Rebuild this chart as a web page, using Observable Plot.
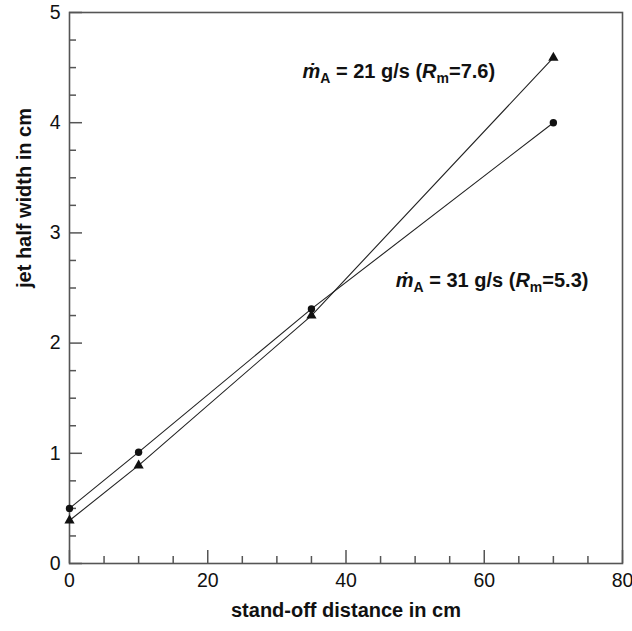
<!DOCTYPE html>
<html><head><meta charset="utf-8">
<script src="https://cdn.jsdelivr.net/npm/d3@7"></script>
<script src="https://cdn.jsdelivr.net/npm/@observablehq/plot@0.6"></script>
<style>
body{margin:0;background:#fff;}
#chart svg{font-family:"Liberation Sans",Arial,Helvetica,sans-serif;}
</style>
</head><body><div id="chart"></div>
<script>
// stand-off distance (cm)
const distance = [0, 10, 35, 70];
// jet half width (cm), mass flow 31 g/s (circles)
const halfWidth31 = [0.50, 1.01, 2.31, 4.00];
// jet half width (cm), mass flow 21 g/s (triangles)
const halfWidth21 = [0.39, 0.89, 2.25, 4.59];

const xMajorTicks = [0, 20, 40, 60, 80];
const xMinorTicks = [5, 10, 15, 25, 30, 35, 45, 50, 55, 65, 70, 75];
const yMajorTicks = [0, 1, 2, 3, 4, 5];
const yMinorTicks = [0.25, 0.5, 0.75, 1.25, 1.5, 1.75, 2.25, 2.5, 2.75, 3.25, 3.5, 3.75, 4.25, 4.5, 4.75];

const annotationFlow = ["21", "31"];
const annotationRm = ["7.6", "5.3"];
const annotationX = [33.7, 47.2];
const annotationY = [4.46, 2.565];

const s31 = distance.map((d, i) => ({x: d, y: halfWidth31[i]}));
const s21 = distance.map((d, i) => ({x: d, y: halfWidth21[i]}));
const notes = annotationFlow.map((f, i) => ({x: annotationX[i], y: annotationY[i], flow: f, rm: annotationRm[i]}));

const axisColor = "#555";

const chart = Plot.plot({
  width: 632,
  height: 631,
  marginLeft: 69,
  marginRight: 10,
  marginTop: 12,
  marginBottom: 68,
  x: {domain: [0, 80]},
  y: {domain: [0, 5]},
  style: {color: "#111", background: "#fff"},
  marks: [
    Plot.frame({stroke: axisColor, strokeWidth: 1.6}),
    Plot.axisX(xMajorTicks, {tickSize: -13, tickPadding: 23, stroke: axisColor, strokeWidth: 1.5, fontSize: 19.5, fill: "#111", tickFormat: "d", label: null}),
    Plot.axisX(xMinorTicks, {tickSize: -7, tickFormat: () => "", stroke: axisColor, strokeWidth: 1.5, label: null}),
    Plot.axisY(yMajorTicks, {tickSize: -13, tickPadding: 22, stroke: axisColor, strokeWidth: 1.5, fontSize: 19.5, fill: "#111", tickFormat: "d", label: null}),
    Plot.axisY(yMinorTicks, {tickSize: -7, tickFormat: () => "", stroke: axisColor, strokeWidth: 1.5, label: null}),
    Plot.line(s31, {x: "x", y: "y", stroke: "#222", strokeWidth: 1.1}),
    Plot.line(s21, {x: "x", y: "y", stroke: "#222", strokeWidth: 1.1}),
    Plot.dot(s31, {x: "x", y: "y", r: 3.7, fill: "#111", stroke: "none"}),
    Plot.dot(s21, {x: "x", y: "y", symbol: "triangle", r: 3.8, fill: "#111", stroke: "none"}),
    Plot.text(notes, {x: "x", y: "y", text: d => `ṁA = ${d.flow} g/s (Rm=${d.rm})`, textAnchor: "start", fontSize: 20, fontWeight: "bold", fill: "#111"}),
    Plot.text(["stand-off distance in cm"], {frameAnchor: "bottom", dy: 53, fontSize: 20, fontWeight: "bold", fill: "#111"}),
    Plot.text(["jet half width in cm"], {frameAnchor: "left", dx: -45, rotate: -90, fontSize: 20, fontWeight: "bold", fill: "#111"})
  ]
});

// rich formatting of annotations (dot-over m, subscripts, italics)
d3.select(chart).selectAll("text").filter(function() { return this.textContent.startsWith("ṁA"); }).each(function() {
  const t = d3.select(this);
  const m = this.textContent.match(/= (\d+) g\/s \(Rm=([\d.]+)\)/);
  t.text(null);
  t.append("tspan").attr("font-style", "italic").text("ṁ");
  t.append("tspan").attr("font-size", 14).attr("dy", 5).text("A");
  t.append("tspan").attr("dy", -5).text(" = " + m[1] + " g/s (");
  t.append("tspan").attr("font-style", "italic").text("R");
  t.append("tspan").attr("font-size", 14).attr("dy", 5).text("m");
  t.append("tspan").attr("dy", -5).text("=" + m[2] + ")");
});

document.getElementById("chart").append(chart);
</script>
</body></html>
